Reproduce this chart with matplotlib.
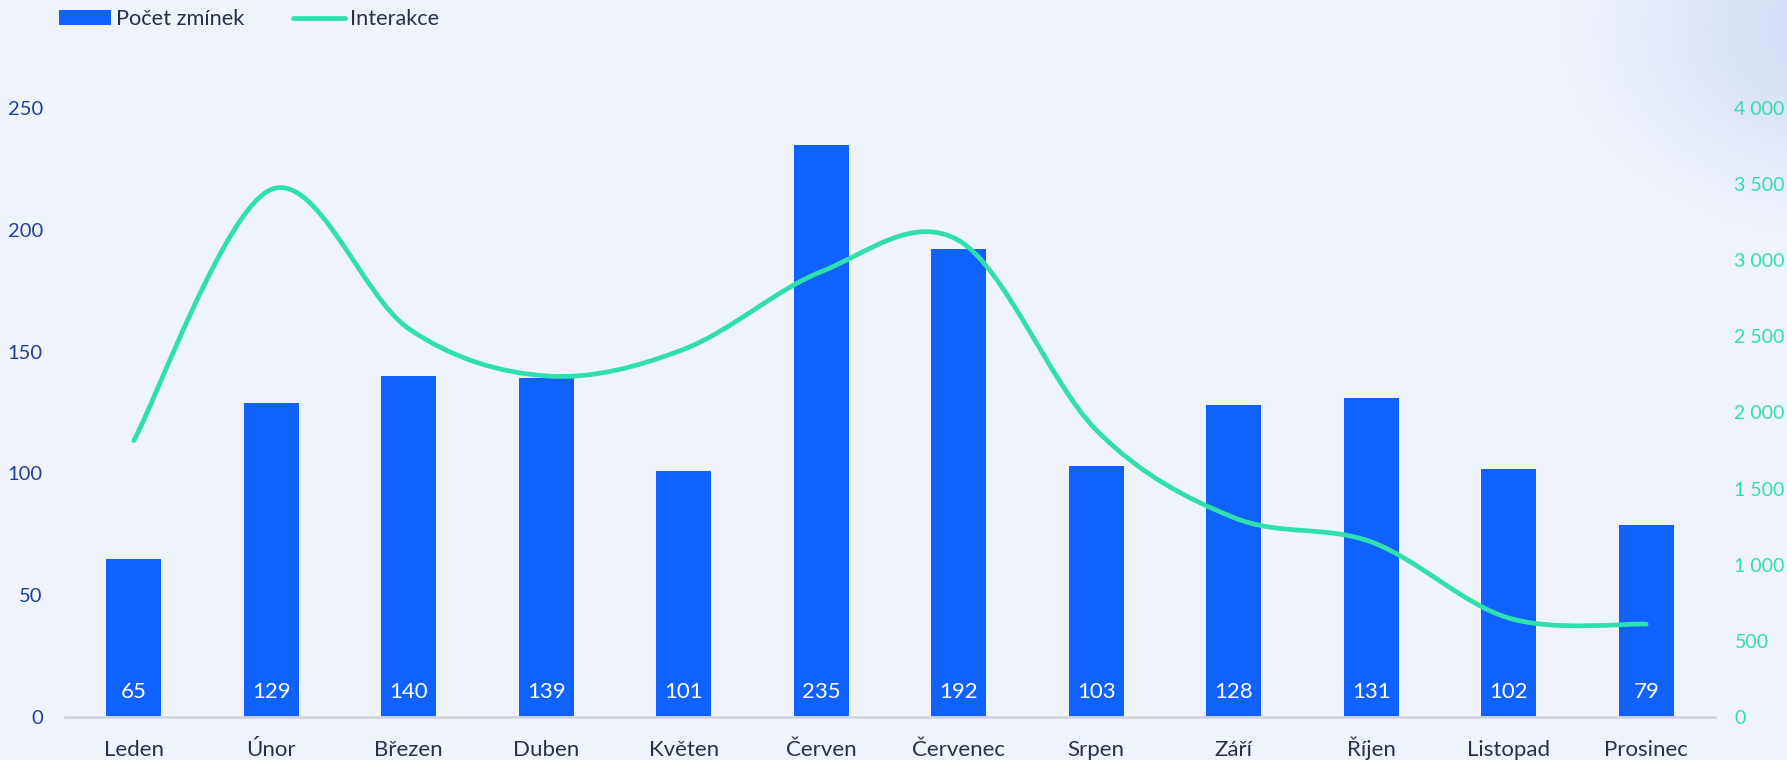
import numpy as np
import matplotlib
matplotlib.use("Agg")
import matplotlib.pyplot as plt
from matplotlib.path import Path
from matplotlib.patches import PathPatch, Patch
from matplotlib.lines import Line2D
from matplotlib.ticker import FuncFormatter, MultipleLocator

plt.rcParams['font.family'] = ['Lato', 'DejaVu Sans']

# data
months = ['Leden', 'Únor', 'Březen', 'Duben', 'Květen', 'Červen',
          'Červenec', 'Srpen', 'Září', 'Říjen', 'Listopad', 'Prosinec']
mentions = [65, 129, 140, 139, 101, 235, 192, 103, 128, 131, 102, 79]
interactions = [1815, 3465, 2550, 2240, 2415, 2925, 3130, 1885, 1310, 1150, 650, 610]

bg = '#eff3fb'
bar_col = '#0f62fe'
line_col = '#2fe0ad'
left_col = '#1f3f9e'
text_col = '#26324d'

fig = plt.figure(figsize=(17.87, 7.6), dpi=100)
fig.patch.set_facecolor(bg)

# background with soft blob in the top right corner
ax_bg = fig.add_axes([0, 0, 1, 1], zorder=-5)
W, H = 1787, 760
yy, xx = np.mgrid[0:H, 0:W]
d = np.sqrt(((xx - 1830) / 230.0) ** 2 + ((yy - 30) / 175.0) ** 2)
w = np.clip(1.25 - d, 0, 1) ** 1.3
w = np.clip(w, 0, 1)
c0 = np.array(matplotlib.colors.to_rgb(bg))
c1 = np.array(matplotlib.colors.to_rgb('#d4dff5'))
img = c0[None, None, :] * (1 - w[..., None]) + c1[None, None, :] * w[..., None]
ax_bg.imshow(img, aspect='auto', extent=[0, 1, 0, 1], origin='upper')
ax_bg.axis('off')

ax = fig.add_axes([0.0364, 0.0566, 0.9233, 0.8013])
ax.set_facecolor('none')
x = np.arange(len(months))

ax.bar(x, mentions, width=0.4, color=bar_col, zorder=2)
for i, v in enumerate(mentions):
    ax.annotate(str(v), (i, 0), xytext=(0, 25), textcoords='offset pixels',
                ha='center', va='center', color='white', fontsize=16)

ax.set_xlim(-0.5, len(months) - 0.5)
ax.set_ylim(0, 250)
ax.yaxis.set_major_locator(MultipleLocator(50))
ax.set_xticks(x)
ax.set_xticklabels(months, va='baseline')
ax.tick_params(axis='x', length=0, pad=28, labelsize=16, labelcolor=text_col)
ax.tick_params(axis='y', length=0, pad=16, labelsize=14.5, labelcolor=left_col)
for s in ['top', 'right', 'left']:
    ax.spines[s].set_visible(False)
ax.spines['bottom'].set_color('#d3d6dd')
ax.spines['bottom'].set_linewidth(2)

ax2 = ax.twinx()
ax2.set_ylim(0, 4000)
ax2.yaxis.set_major_locator(MultipleLocator(500))
ax2.yaxis.set_major_formatter(FuncFormatter(lambda v, p: f'{int(v):,}'.replace(',', ' ')))
ax2.tick_params(axis='y', length=0, pad=14, labelsize=14, labelcolor=line_col)
for s in ax2.spines.values():
    s.set_visible(False)

# smoothed line (Catmull-Rom style bezier, like spreadsheet smoothing)
pts = np.column_stack([x, interactions]).astype(float)
verts = [pts[0]]
codes = [Path.MOVETO]
n = len(pts)
for i in range(n - 1):
    p0 = pts[max(i - 1, 0)]
    p1 = pts[i]
    p2 = pts[i + 1]
    p3 = pts[min(i + 2, n - 1)]
    verts += [p1 + (p2 - p0) / 6, p2 - (p3 - p1) / 6, p2]
    codes += [Path.CURVE4] * 3
ax2.add_patch(PathPatch(Path(verts, codes), facecolor='none', edgecolor=line_col,
                        lw=3.4, capstyle='round', joinstyle='round', zorder=3))

handles = [Patch(facecolor=bar_col, label='Počet zmínek'),
           Line2D([0], [0], color=line_col, lw=3.4, solid_capstyle='round', label='Interakce')]
leg = fig.legend(handles=handles, loc='center left', bbox_to_anchor=(59 / 1787, 1 - 19 / 760),
                 ncol=2, frameon=False, fontsize=15.7, labelcolor=text_col,
                 handlelength=2.4, handletextpad=0.23, columnspacing=2.2,
                 handleheight=0.65, borderpad=0, borderaxespad=0)

fig.savefig('out.png', dpi=100, facecolor=fig.get_facecolor())
